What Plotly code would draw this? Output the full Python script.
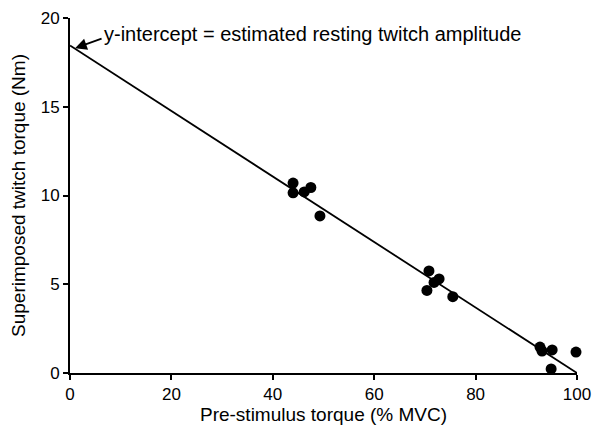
import plotly.graph_objects as go

pre_stim = [44.0, 44.0, 46.2, 47.5, 49.3,
            70.8, 70.4, 71.8, 72.8, 75.5,
            92.7, 93.1, 95.1, 94.9, 99.8]
twitch = [10.7, 10.15, 10.2, 10.45, 8.85,
          5.75, 4.65, 5.1, 5.3, 4.3,
          1.46, 1.24, 1.3, 0.23, 1.18]
fit_x = [0, 100]
fit_y = [18.45, 0]
x_ticks = [0, 20, 40, 60, 80, 100]
y_ticks = [0, 5, 10, 15, 20]

font = "Liberation Sans, Arial, sans-serif"

fig = go.Figure()
fig.add_trace(go.Scatter(x=fit_x, y=fit_y, mode="lines",
                         line=dict(color="black", width=1.8),
                         cliponaxis=False, showlegend=False))
fig.add_trace(go.Scatter(x=pre_stim, y=twitch, mode="markers",
                         marker=dict(color="black", size=11),
                         cliponaxis=False, showlegend=False))

fig.add_annotation(x=1, y=18.3, ax=28, ay=-10, axref="pixel", ayref="pixel",
                   xref="x", yref="y", text="", showarrow=True,
                   arrowhead=2, arrowsize=1.3, arrowwidth=1.8, arrowcolor="black",
                   standoff=0)
fig.add_annotation(x=6.4, y=19.1, xref="x", yref="y", xanchor="left", yanchor="middle",
                   text="y-intercept = estimated resting twitch amplitude",
                   showarrow=False, font=dict(size=20, color="black", family=font))

fig.update_layout(
    width=593, height=425,
    margin=dict(l=62, r=24, t=10, b=60),
    paper_bgcolor="white", plot_bgcolor="white",
    font=dict(family=font, color="black", size=17),
)
fig.update_xaxes(range=[0, 100], tickvals=x_ticks, showline=True, linecolor="black",
                 linewidth=2, ticks="outside", ticklen=5, tickwidth=1.5,
                 tickcolor="black", showgrid=False, zeroline=False, automargin=False,
                 title=dict(text="Pre-stimulus torque (% MVC)", font=dict(size=19), standoff=0))
fig.update_yaxes(range=[0, 20], tickvals=y_ticks, showline=True, linecolor="black",
                 linewidth=2, ticks="outside", ticklen=5, tickwidth=1.5,
                 tickcolor="black", showgrid=False, zeroline=False, automargin=False,
                 title=dict(text="Superimposed twitch torque (Nm)", font=dict(size=19), standoff=10))

fig.write_html("out.html")
